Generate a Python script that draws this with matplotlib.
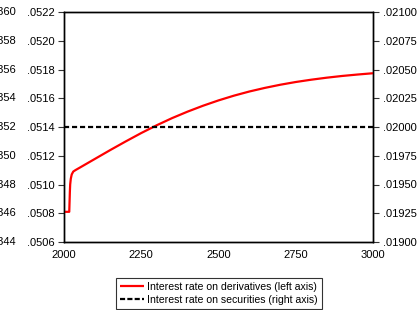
import matplotlib
matplotlib.use("Agg")
import matplotlib.pyplot as plt
from matplotlib.ticker import FuncFormatter, FixedLocator
from matplotlib.lines import Line2D

plt.rcParams['font.family'] = ['Liberation Sans', 'DejaVu Sans']

# Data
years = [2000, 2017, 2018, 2019, 2020, 2022, 2025, 2030, 2037, 2050, 2100, 2150,
         2200, 2250, 2300, 2350, 2400, 2450, 2500, 2550, 2600, 2650, 2700, 2750,
         2800, 2850, 2900, 2950, 3000]
deriv_rate = [0.05081, 0.05081, 0.05088, 0.05095, 0.05100, 0.05104, 0.05107,
              0.051090, 0.051100, 0.051116, 0.051178, 0.051240, 0.051300,
              0.051358, 0.051412, 0.051462, 0.051507, 0.051548, 0.051585,
              0.051618, 0.051647, 0.051672, 0.051694, 0.051713, 0.051729,
              0.051743, 0.051755, 0.051765, 0.051774]
sec_years = [2000, 3000]
sec_rate = [0.0200, 0.0200]

left_ticks = [0.0506, 0.0508, 0.0510, 0.0512, 0.0514, 0.0516, 0.0518, 0.0520, 0.0522]
right_ticks = [0.01900, 0.01925, 0.01950, 0.01975, 0.02000, 0.02025, 0.02050, 0.02075, 0.02100]
x_ticks = [2000, 2250, 2500, 2750, 3000]
neighbor_labels = [".0360", ".0358", ".0356", ".0354", ".0352", ".0350", ".0348", ".0346", ".0344"]
legend_labels = ["Interest rate on derivatives (left axis)",
                 "Interest rate on securities (right axis)"]

W, H = 419, 310
fig = plt.figure(figsize=(W / 100, H / 100), dpi=100)
L, R, T, B = 64, 373, 12, 242
ax = fig.add_axes([L / W, 1 - B / H, (R - L) / W, (B - T) / H])
ax2 = ax.twinx()

red_style = dict(color='#ff0000', lw=1.6, solid_capstyle='butt')
dash_style = dict(color='black', lw=1.6, ls=(0, (2.3, 1.3)))

ax.plot(years, deriv_rate, zorder=3, **red_style)
ax2.plot(sec_years, sec_rate, zorder=2, **dash_style)

ax.set_xlim(2000, 3000)
ax.set_ylim(0.0506, 0.0522)
ax2.set_ylim(0.0190, 0.0210)
ax.set_xticks(x_ticks)
ax.set_xticklabels([str(v) for v in x_ticks])
ax.yaxis.set_major_locator(FixedLocator(left_ticks))
ax2.yaxis.set_major_locator(FixedLocator(right_ticks))
ax.yaxis.set_major_formatter(FuncFormatter(lambda v, p: ("%.4f" % v).lstrip('0')))
ax2.yaxis.set_major_formatter(FuncFormatter(lambda v, p: ("%.5f" % v).lstrip('0')))

for a in (ax, ax2):
    for s in a.spines.values():
        s.set_linewidth(1.0)
        s.set_color('black')
ax.tick_params(axis='y', direction='out', length=4, width=0.8, labelsize=8, pad=3, color='#333333')
ax2.tick_params(axis='y', direction='out', length=4, width=0.8, labelsize=8, pad=3, color='#333333')
ax.tick_params(axis='x', length=0, labelsize=8, pad=6)

# Labels of a neighbouring panel, cut off at the far left edge
for i, lab in enumerate(neighbor_labels):
    yv = left_ticks[::-1][i]
    ax.annotate(lab, xy=(0, yv), xycoords=('figure pixels', 'data'),
                xytext=(16, 0), textcoords='offset pixels',
                ha='right', va='center', fontsize=8, annotation_clip=False)

handles = [Line2D([], [], **red_style),
           Line2D([], [], color='black', lw=1.6, ls=(0, (2.3, 1.0)))]
leg = fig.legend(handles, legend_labels,
                 loc='center', bbox_to_anchor=(219 / W, 1 - 293.5 / H),
                 fontsize=7.6, frameon=True, fancybox=False, handlelength=2.3,
                 handletextpad=0.3, borderpad=0.4, labelspacing=0.3,
                 borderaxespad=0)
leg.get_frame().set_edgecolor('black')
leg.get_frame().set_linewidth(0.8)

fig.savefig('out.png', dpi=100)
